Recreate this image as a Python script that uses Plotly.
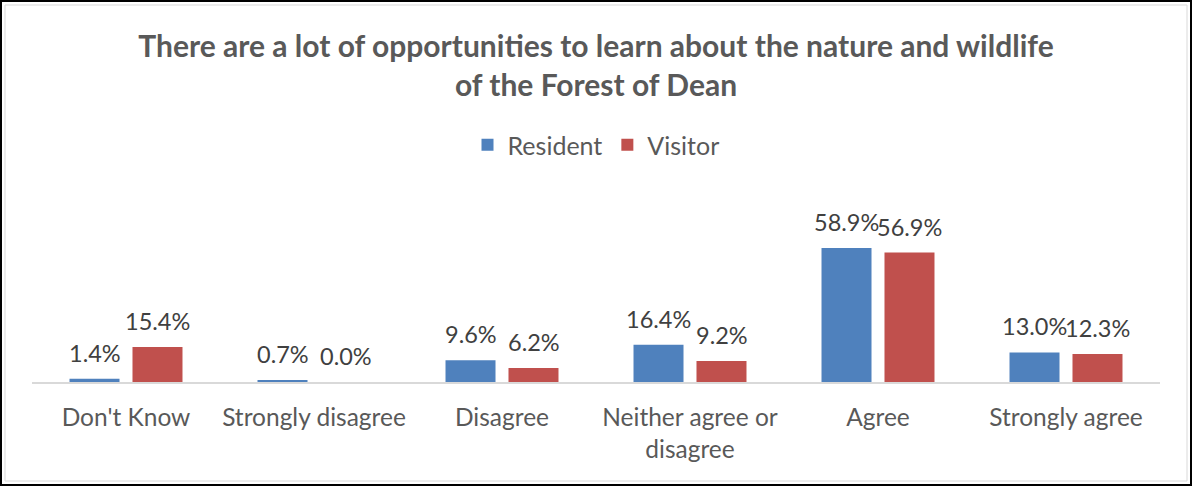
import plotly.graph_objects as go

categories = ["Don't Know", "Strongly disagree", "Disagree", "Neither agree or<br>disagree", "Agree", "Strongly agree"]
resident = [1.4, 0.7, 9.6, 16.4, 58.9, 13.0]
visitor = [15.4, 0.0, 6.2, 9.2, 56.9, 12.3]
series_names = ["Resident", "Visitor"]
title_text = "There are a lot of opportunities to learn about the nature and wildlife<br>of the Forest of Dean"

W, H = 1192, 486
L, R, T, B = 32, 32, 200, 104
FONT = "Lato"
colors = ["#4F81BD", "#C0504D"]

fig = go.Figure()
annotations = []
slot_shift = [-31.5, 31.5]
for i, (name, vals) in enumerate([(series_names[0], resident), (series_names[1], visitor)]):
    fig.add_trace(go.Bar(
        name=name, x=categories, y=vals,
        marker=dict(color=colors[i], line=dict(width=0)),
        hoverinfo="x+y",
    ))
    for c, v in zip(categories, vals):
        annotations.append(dict(
            x=c, y=v, xref="x", yref="y", text=f"{v:.1f}%", showarrow=False,
            xshift=slot_shift[i], yshift=26, yanchor="middle", xanchor="center",
            font=dict(family=FONT, size=23.5, color="#404040"),
        ))

pw = W - L - R
ph = H - T - B
def px_x(p):
    return (p - L) / pw
def px_y(p):
    return (H - B - p) / ph

fig.update_layout(
    width=W, height=H,
    margin=dict(l=L, r=R, t=T, b=B),
    paper_bgcolor="white", plot_bgcolor="white",
    barmode="group", bargap=0.33, bargroupgap=0.206,
    title=dict(text=title_text, x=0.5, xanchor="center", y=1 - 57 / H, yanchor="middle",
               font=dict(family=FONT, size=30, color="#595959", weight="bold")),
    legend=dict(orientation="h", x=0.5, xanchor="center", y=1 - 145 / H, yref="container", yanchor="middle",
                font=dict(family=FONT, size=25, color="#595959"), itemwidth=30, traceorder="normal"),
    xaxis=dict(showline=True, linecolor="#D9D9D9", linewidth=2, ticks="outside", ticklen=13,
               tickcolor="rgba(0,0,0,0)",
               tickfont=dict(family=FONT, size=24.5, color="#595959"), fixedrange=True),
    yaxis=dict(visible=False, range=[0, 80], fixedrange=True),
    annotations=annotations,
    shapes=[
        dict(type="rect", xref="paper", yref="paper", x0=px_x(1), x1=px_x(W - 1), y0=px_y(H - 1), y1=px_y(1),
             line=dict(color="black", width=2), fillcolor="rgba(0,0,0,0)", layer="above"),
        dict(type="rect", xref="paper", yref="paper", x0=px_x(5), x1=px_x(W - 5), y0=px_y(H - 5), y1=px_y(5),
             line=dict(color="#D9D9D9", width=1), fillcolor="rgba(0,0,0,0)", layer="above"),
    ],
)
fig.write_html("out.html", config={"displayModeBar": False},
               post_script="document.body.style.margin='0';document.body.style.overflow='hidden';")
